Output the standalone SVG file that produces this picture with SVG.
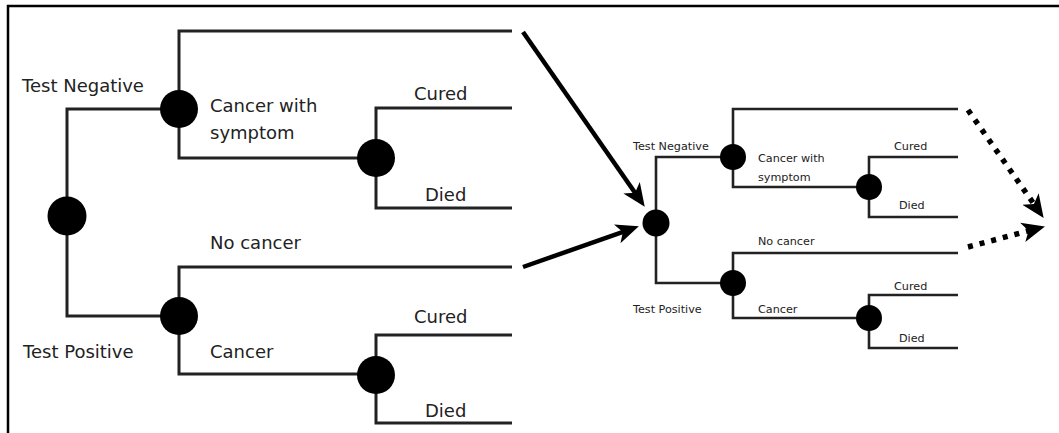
<svg xmlns="http://www.w3.org/2000/svg" width="1059" height="433" viewBox="0 0 1059 433">
<style>
.frame{fill:none;stroke:#000;stroke-width:2.5}
.big{fill:none;stroke:#222;stroke-width:3;stroke-linejoin:miter}
.small{fill:none;stroke:#222;stroke-width:2.6;stroke-linejoin:miter}
.node{fill:#000}
.lbl{font-family:"DejaVu Sans",sans-serif;font-size:18px;fill:#222}
.lbls{font-family:"DejaVu Sans",sans-serif;font-size:11.2px;fill:#222}
.arrow{fill:none;stroke:#000;stroke-width:4.5}
.dots{fill:none;stroke:#000;stroke-width:5.5;stroke-dasharray:5 7}
</style>
<defs>
<marker id="head" markerUnits="userSpaceOnUse" markerWidth="26" markerHeight="22" viewBox="0 0 26 22" refX="10" refY="11" orient="auto">
<path d="M0,1 L23,11 L0,21 L6,11 z" fill="#000"/>
</marker>
</defs>
<path class="frame" d="M8 433 V6 H1059"/>
<g id="connectors">
<path class="big" d="M179 109 H67 V316 H179"/>
<path class="big" d="M512 31 H179 V158 H376"/>
<path class="big" d="M512 108 H376 V208 H512"/>
<path class="big" d="M512 267 H179 V374 H376"/>
<path class="big" d="M512 335 H376 V423 H512"/>
<path class="small" d="M733 157 H656 V283 H733"/>
<path class="small" d="M958 109 H733 V187 H869"/>
<path class="small" d="M958 157 H869 V217 H958"/>
<path class="small" d="M958 253 H733 V318 H869"/>
<path class="small" d="M958 295 H869 V348 H958"/>
<path class="arrow" d="M523 32 L637.3 196" marker-end="url(#head)"/>
<path class="arrow" d="M523 267 L626.6 230.6" marker-end="url(#head)"/>
<path class="dots" d="M968 110 L1036.2 207.3" marker-end="url(#head)"/>
<path class="dots" d="M968 247 L1032.4 229.8" marker-end="url(#head)"/>
</g>
<g id="n-root"><circle class="node" cx="67" cy="216" r="19.5"/></g>
<g id="n-neg"><circle class="node" cx="179" cy="109" r="19"/></g>
<g id="n-sym"><circle class="node" cx="376" cy="158" r="19"/></g>
<g id="n-pos"><circle class="node" cx="179" cy="316" r="19"/></g>
<g id="n-can"><circle class="node" cx="376" cy="375" r="19"/></g>
<g id="m-root"><circle class="node" cx="656" cy="223" r="13.5"/></g>
<g id="m-neg"><circle class="node" cx="733" cy="157" r="13"/></g>
<g id="m-sym"><circle class="node" cx="869" cy="187" r="13"/></g>
<g id="m-pos"><circle class="node" cx="733" cy="283" r="13"/></g>
<g id="m-can"><circle class="node" cx="869" cy="318" r="13"/></g>
<g id="labels">
<text class="lbl" x="22" y="92">Test Negative</text>
<text class="lbl" x="210" y="112">Cancer with</text>
<text class="lbl" x="210" y="139">symptom</text>
<text class="lbl" x="414" y="100">Cured</text>
<text class="lbl" x="425" y="201">Died</text>
<text class="lbl" x="210" y="249">No cancer</text>
<text class="lbl" x="23" y="358">Test Positive</text>
<text class="lbl" x="210" y="358">Cancer</text>
<text class="lbl" x="414" y="323">Cured</text>
<text class="lbl" x="425" y="417">Died</text>
<text class="lbls" x="633" y="150">Test Negative</text>
<text class="lbls" x="758" y="162">Cancer with</text>
<text class="lbls" x="758" y="181">symptom</text>
<text class="lbls" x="894" y="150">Cured</text>
<text class="lbls" x="899" y="209">Died</text>
<text class="lbls" x="758" y="245">No cancer</text>
<text class="lbls" x="633" y="313">Test Positive</text>
<text class="lbls" x="758" y="313">Cancer</text>
<text class="lbls" x="894" y="290">Cured</text>
<text class="lbls" x="899" y="342">Died</text>
</g>
</svg>
